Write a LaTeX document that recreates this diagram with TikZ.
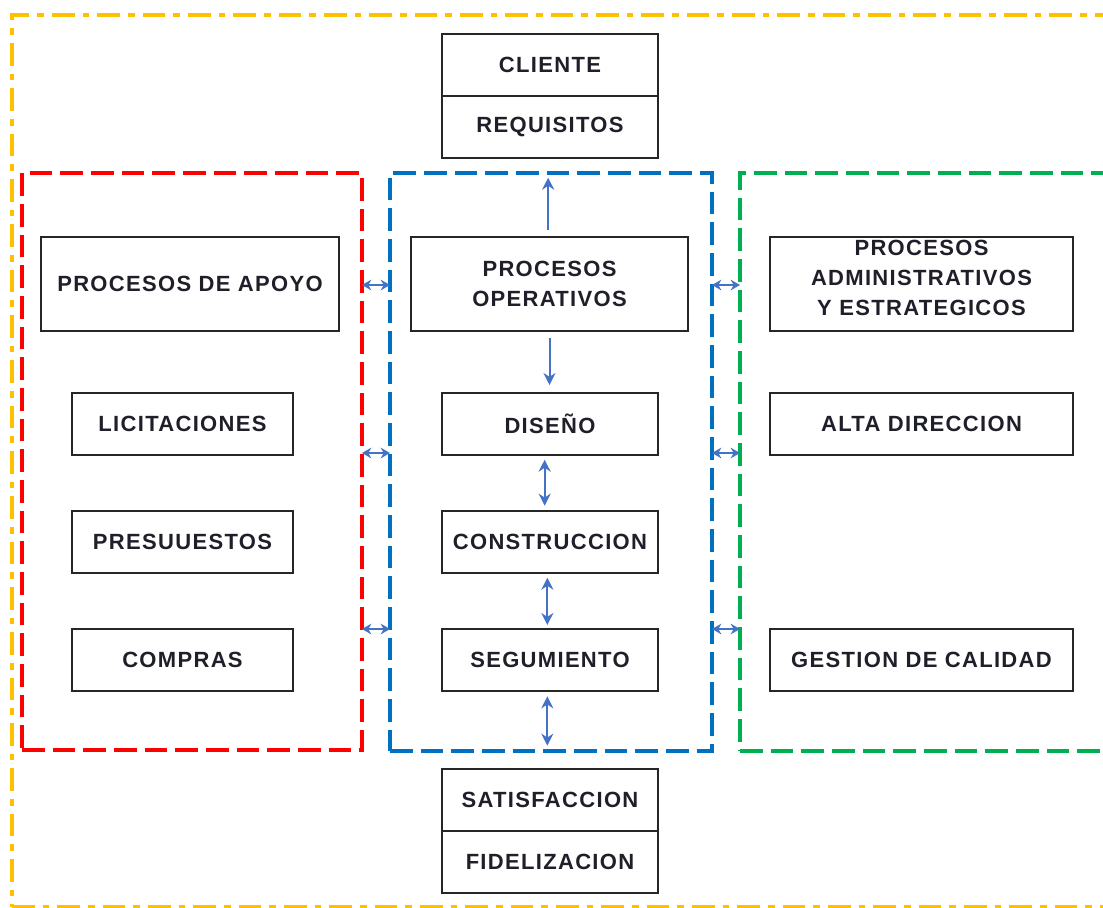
\documentclass[tikz,border=0pt]{standalone}
\usepackage{fontspec}
\setmainfont{Liberation Sans}[LetterSpace=6]
\usetikzlibrary{arrows.meta}
\definecolor{frameorange}{HTML}{FFC000}
\definecolor{framered}{HTML}{FF0000}
\definecolor{frameblue}{HTML}{0070C0}
\definecolor{framegreen}{HTML}{00B050}
\definecolor{arrowblue}{HTML}{4472C4}
\definecolor{boxline}{HTML}{262626}
\definecolor{boxtext}{HTML}{1F1F2A}

\begin{document}
\begin{tikzpicture}[x=0.75pt,y=-0.75pt,
  box/.style={draw=boxline, line width=1.5pt, inner sep=0pt, outer sep=0pt,
    align=center, text=boxtext, font=\fontsize{16.5}{22.5}\selectfont\bfseries},
  headbox/.style={box, minimum width=162pt, minimum height=46.25pt},
  bigbox/.style={box, minimum height=70.5pt},
  leftbox/.style={box, minimum width=165.75pt, minimum height=46.5pt},
  midbox/.style={box, minimum width=162pt, minimum height=46.5pt},
  rightbox/.style={box, minimum width=227.25pt, minimum height=46.5pt},
  groupframe/.style={line width=3pt, dash pattern=on 17pt off 6pt,
    inner sep=0pt, outer sep=0pt, anchor=north west},
  link/.style={arrowblue, line width=1.5pt,
    -{Stealth[length=9pt,width=9pt]}},
  dlink/.style={arrowblue, line width=1.5pt,
    {Stealth[length=9pt,width=9pt]}-{Stealth[length=9pt,width=9pt]}},
  hlink/.style={arrowblue, line width=1.5pt,
    {Stealth[length=7pt,width=8pt]}-{Stealth[length=7pt,width=8pt]}},
]
\useasboundingbox (0,0) rectangle (1103,907);

% outer frame of the whole organisation
\begin{scope}
\clip (0,0) rectangle (1103,907);
\node[draw=frameorange, line width=2.6pt, inner sep=0pt, outer sep=0pt,
  anchor=north west, dash pattern=on 17pt off 6pt on 5pt off 6pt,
  minimum width=828pt, minimum height=669pt] (empresa) at (12,15) {};

% process groups
\node[groupframe, draw=framered, minimum width=255pt, minimum height=432.75pt]
  (apoyoframe) at (22,173) {};
\node[groupframe, draw=frameblue, minimum width=241.5pt, minimum height=433.5pt]
  (operframe) at (390,173) {};
\node[groupframe, draw=framegreen, minimum width=280pt, minimum height=433.5pt]
  (adminframe) at (740,173) {};
\end{scope}

% customer input and output
\node[headbox] (cliente) at (550,65) {CLIENTE};
\node[headbox, anchor=north] (requisitos) at (cliente.south) {REQUISITOS};
\node[headbox] (satisfaccion) at (550,800) {SATISFACCION};
\node[headbox, anchor=north] (fidelizacion) at (satisfaccion.south) {FIDELIZACION};

% group headings
\node[bigbox, minimum width=223.5pt] (apoyo) at (190,284) {PROCESOS DE APOYO};
\node[bigbox, minimum width=207.75pt] (operativos) at (549.5,284)
  {PROCESOS\\OPERATIVOS};
\node[bigbox, minimum width=227.25pt, text depth=9pt] (admin) at (921.5,284)
  {PROCESOS\\ADMINISTRATIVOS\\Y ESTRATEGICOS};

% support processes
\node[leftbox] (licitaciones) at (182.5,424) {LICITACIONES};
\node[leftbox] (presupuestos) at (182.5,542) {PRESUUESTOS};
\node[leftbox] (compras) at (182.5,660) {COMPRAS};

% operational processes
\node[midbox] (diseno) at (550,424) {DISEÑO};
\node[midbox] (construccion) at (550,542) {CONSTRUCCION};
\node[midbox] (seguimiento) at (550,660) {SEGUMIENTO};

% management processes
\node[rightbox] (alta) at (921.5,424) {ALTA DIRECCION};
\node[rightbox] (calidad) at (921.5,660) {GESTION DE CALIDAD};

% flow inside the operational group
\draw[link, shorten <=5pt, shorten >=3.5pt]
  ([xshift=-1pt]operativos.north) -- ([xshift=-1pt]operativos.north |- operframe.north);
\draw[link, shorten <=5pt, shorten >=6pt]
  (operativos.south) -- (operativos.south |- diseno.north);
\draw[dlink, shorten <=3.5pt, shorten >=4pt]
  ([xshift=-4pt]diseno.south) -- ([xshift=-4pt]construccion.north);
\draw[dlink, shorten <=3.5pt, shorten >=3pt]
  ([xshift=-2pt]construccion.south) -- ([xshift=-2pt]seguimiento.north);
\draw[dlink, shorten <=4pt, shorten >=4pt]
  ([xshift=-2pt]seguimiento.south) -- ([xshift=-2pt]seguimiento.south |- operframe.south);

% links between the groups
\foreach \y in {285,453,629} {
  \draw[hlink] (apoyoframe.east |- 0,\y) -- (operframe.west |- 0,\y);
  \draw[hlink] (operframe.east |- 0,\y) -- (adminframe.west |- 0,\y);
}
\end{tikzpicture}
\end{document}
